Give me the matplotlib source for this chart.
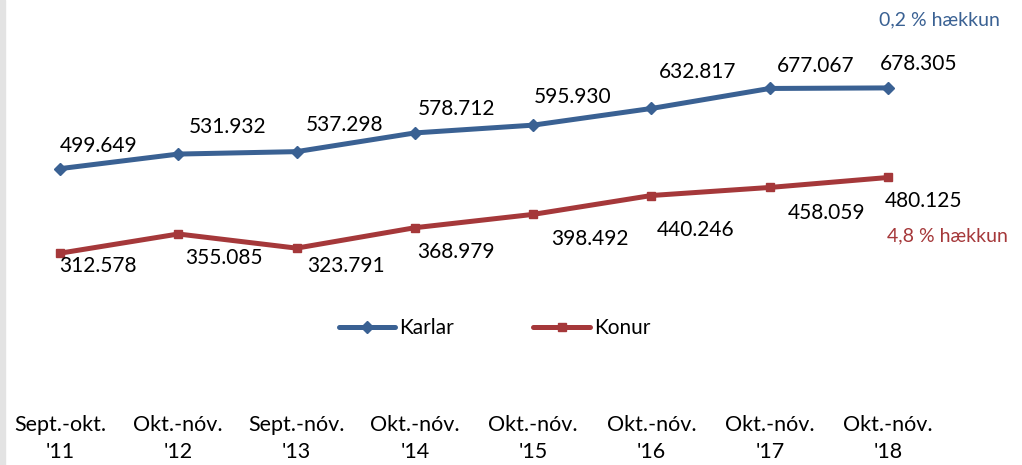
import matplotlib.pyplot as plt
from matplotlib.patches import Rectangle

periods = ["Sept.-okt.\n'11", "Okt.-nóv.\n'12", "Sept.-nóv.\n'13", "Okt.-nóv.\n'14",
           "Okt.-nóv.\n'15", "Okt.-nóv.\n'16", "Okt.-nóv.\n'17", "Okt.-nóv.\n'18"]
karlar = [499.649, 531.932, 537.298, 578.712, 595.930, 632.817, 677.067, 678.305]
konur = [312.578, 355.085, 323.791, 368.979, 398.492, 440.246, 458.059, 480.125]

BLUE = '#3A6193'
RED = '#A5383A'

# label offsets in pixels (hand placed, like the original)
blue_off = [(39, 23), (49, 27), (48, 27), (42, 24), (39, 28), (46, 36), (46, 22), (31, 24)]
red_off = [(38, -13), (46, -24), (49, -18), (41, -24), (57, -25), (44, -34), (57, -26), (35, -24)]

plt.rcParams['font.family'] = ['Lato', 'DejaVu Sans']

fig = plt.figure(figsize=(10.22, 4.65), dpi=100)
fig.patches.append(Rectangle((0, 0), 5 / 1022, 1, transform=fig.transFigure,
                             color='#E3E3E3', zorder=0))
ax = fig.add_axes([0, 65 / 465, 1, 400 / 465])

x = list(range(len(periods)))
ax.plot(x, karlar, color=BLUE, lw=3.6, marker='D', markersize=6, label='Karlar',
        solid_capstyle='round')
ax.plot(x, konur, color=RED, lw=3.6, marker='s', markersize=6, label='Konur',
        solid_capstyle='round')

for i in x:
    ax.annotate(f'{karlar[i]:.3f}', (i, karlar[i]), xytext=blue_off[i],
                textcoords='offset pixels', ha='center', va='center', fontsize=15)
    ax.annotate(f'{konur[i]:.3f}', (i, konur[i]), xytext=red_off[i],
                textcoords='offset pixels', ha='center', va='center', fontsize=15)

ax.annotate('0,2 % hækkun', (x[-1], karlar[-1]), xytext=(-9, 68),
            textcoords='offset pixels', ha='left', va='center', fontsize=14, color=BLUE)
ax.annotate('4,8 % hækkun', (x[-1], konur[-1]), xytext=(-1, -58),
            textcoords='offset pixels', ha='left', va='center', fontsize=14, color=RED)

ax.set_xlim(-0.507, 8.132)
ax.set_ylim(-12.2, 872.8)
ax.set_xticks(x)
ax.set_xticklabels(periods, fontsize=15.5, linespacing=1.4)
ax.tick_params(axis='x', length=0, pad=11)
ax.set_yticks([])
for s in ax.spines.values():
    s.set_visible(False)
ax.patch.set_alpha(0)

fig.legend(loc='center', bbox_to_anchor=(0.484, 0.295), ncol=2, frameon=False,
           fontsize=15, handlelength=2.7, handletextpad=0.2, columnspacing=3.8)

fig.savefig('out.png', dpi=100)
